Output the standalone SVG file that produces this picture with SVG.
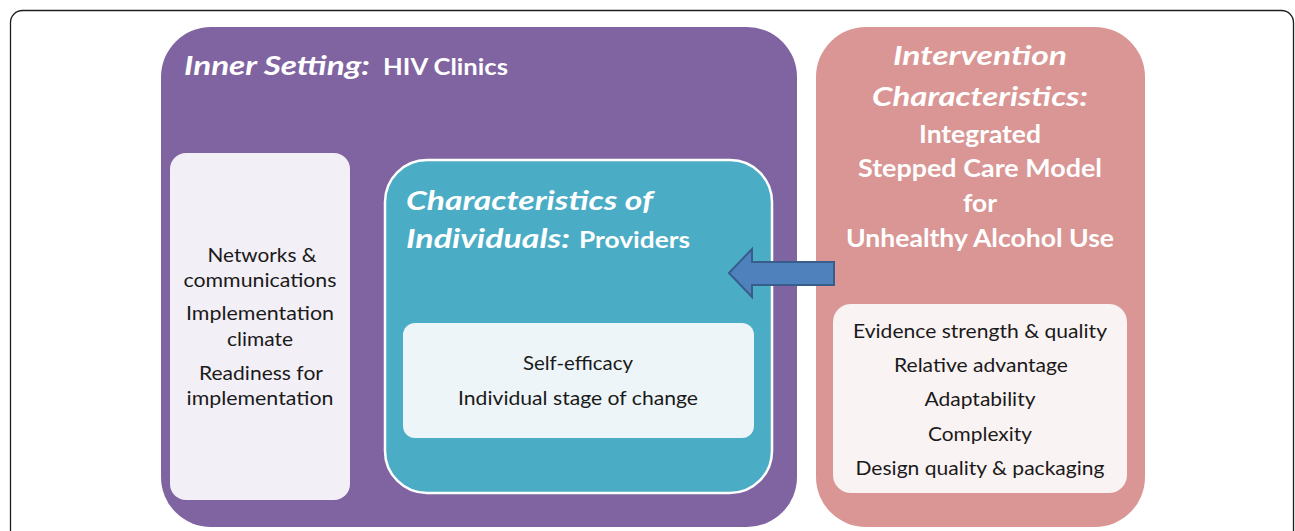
<svg xmlns="http://www.w3.org/2000/svg" width="1295" height="531" viewBox="0 0 1295 531">
  <style>
    text { font-family: "Lato", "Open Sans", "Liberation Sans", sans-serif; }
    .title { fill: #FFFFFF; font-weight: bold; }
    .it { font-style: italic; }
    .item { fill: #1A1A1A; font-size: 19px; text-anchor: middle; }
    .mid { text-anchor: middle; }
  </style>

  <!-- page frame -->
  <rect x="10.5" y="10.5" width="1283" height="580" rx="12" fill="#FFFFFF" stroke="#1E1E1E" stroke-width="1.3"/>

  <!-- Inner Setting -->
  <g id="inner-setting">
    <rect x="161" y="27" width="636" height="500" rx="50" fill="#8064A2"/>
    <text class="title it" x="184" y="75" font-size="26" textLength="186" lengthAdjust="spacingAndGlyphs">Inner Setting:</text>
    <text class="title" x="383" y="75" font-size="22" textLength="125" lengthAdjust="spacingAndGlyphs">HIV Clinics</text>
  </g>

  <!-- Inner Setting constructs -->
  <g id="inner-setting-constructs">
    <rect x="170" y="153" width="180" height="347" rx="16" fill="#F2EFF6"/>
    <text class="item" x="262" y="262" textLength="109" lengthAdjust="spacingAndGlyphs">Networks &amp;</text>
    <text class="item" x="260" y="287" textLength="153" lengthAdjust="spacingAndGlyphs">communications</text>
    <text class="item" x="260" y="320" textLength="148" lengthAdjust="spacingAndGlyphs">Implementation</text>
    <text class="item" x="260" y="346" textLength="66" lengthAdjust="spacingAndGlyphs">climate</text>
    <text class="item" x="261" y="380" textLength="124" lengthAdjust="spacingAndGlyphs">Readiness for</text>
    <text class="item" x="260" y="405" textLength="147" lengthAdjust="spacingAndGlyphs">implementation</text>
  </g>

  <!-- Characteristics of Individuals -->
  <g id="individuals">
    <rect x="385" y="160" width="387" height="333" rx="42" fill="#4BACC6" stroke="#FFFFFF" stroke-width="2.5"/>
    <text class="title it" x="406" y="210" font-size="27" textLength="247" lengthAdjust="spacingAndGlyphs">Characteristics of</text>
    <text class="title it" x="406" y="248" font-size="27" textLength="164" lengthAdjust="spacingAndGlyphs">Individuals:</text>
    <text class="title" x="579" y="248" font-size="22" textLength="111" lengthAdjust="spacingAndGlyphs">Providers</text>
  </g>

  <!-- Individual constructs -->
  <g id="individual-constructs">
    <rect x="403" y="323" width="351" height="115" rx="12" fill="#EDF5F8"/>
    <text class="item" x="578" y="370" textLength="110" lengthAdjust="spacingAndGlyphs">Self-efficacy</text>
    <text class="item" x="578" y="405" textLength="240" lengthAdjust="spacingAndGlyphs">Individual stage of change</text>
  </g>

  <!-- Intervention Characteristics -->
  <g id="intervention">
    <rect x="816" y="27" width="329" height="500" rx="50" fill="#D99694"/>
    <text class="title it mid" x="980" y="65" font-size="26" textLength="174" lengthAdjust="spacingAndGlyphs">Intervention</text>
    <text class="title it mid" x="980" y="106" font-size="26" textLength="216" lengthAdjust="spacingAndGlyphs">Characteristics:</text>
    <text class="title mid" x="980" y="143" font-size="25" textLength="122" lengthAdjust="spacingAndGlyphs">Integrated</text>
    <text class="title mid" x="980" y="177" font-size="25" textLength="244" lengthAdjust="spacingAndGlyphs">Stepped Care Model</text>
    <text class="title mid" x="980" y="212" font-size="25" textLength="34" lengthAdjust="spacingAndGlyphs">for</text>
    <text class="title mid" x="980" y="247" font-size="25" textLength="268" lengthAdjust="spacingAndGlyphs">Unhealthy Alcohol Use</text>
  </g>

  <!-- Intervention constructs -->
  <g id="intervention-constructs">
    <rect x="833" y="304" width="294" height="189" rx="18" fill="#FAF3F3"/>
    <text class="item" x="980" y="338" textLength="254" lengthAdjust="spacingAndGlyphs">Evidence strength &amp; quality</text>
    <text class="item" x="981" y="372" textLength="174" lengthAdjust="spacingAndGlyphs">Relative advantage</text>
    <text class="item" x="980" y="406" textLength="111" lengthAdjust="spacingAndGlyphs">Adaptability</text>
    <text class="item" x="980" y="441" textLength="104" lengthAdjust="spacingAndGlyphs">Complexity</text>
    <text class="item" x="980" y="475" textLength="249" lengthAdjust="spacingAndGlyphs">Design quality &amp; packaging</text>
  </g>

  <!-- connectors: block arrow from the intervention to the providers -->
  <g id="connectors">
    <path d="M729,273 L752,249 L752,262 L834,262 L834,285 L752,285 L752,297 Z" fill="#4F81BD" stroke="#385D8A" stroke-width="2" stroke-linejoin="miter"/>
  </g>
</svg>
